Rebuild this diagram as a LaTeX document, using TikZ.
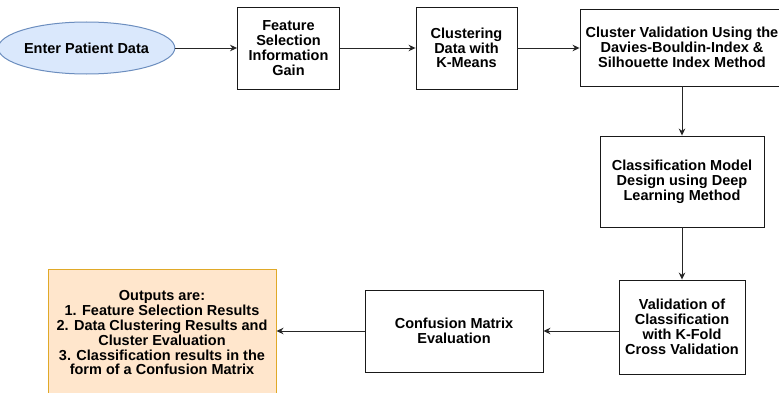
\documentclass[tikz,border=0pt]{standalone}
\usepackage{fontspec}
\setmainfont{Liberation Sans}
\usetikzlibrary{arrows.meta,shapes.geometric}
\definecolor{ellfill}{HTML}{DAE8FC}
\definecolor{elldraw}{HTML}{6C8EBF}
\definecolor{outfill}{HTML}{FFE6CC}
\definecolor{outdraw}{HTML}{E0A928}
\begin{document}
\begin{tikzpicture}[x=1pt,y=1pt,
  every node/.style={font=\bfseries\fontsize{14.5}{14.8}\selectfont, align=center, inner sep=0pt},
  procbox/.style={draw=black!90, line width=0.9pt, fill=white, rectangle},
  conn/.style={draw=black!85, line width=0.9pt, -{Stealth[length=7pt,width=6.5pt]}}]
\clip (0,0) rectangle (779,392);
\fill[white] (0,0) rectangle (779,392);
\node[ellipse, draw=elldraw, fill=ellfill, line width=1pt, minimum width=153pt, minimum height=52pt] (start) at (86.5,344) {Enter Patient Data};
\node[procbox, minimum width=102pt, minimum height=82pt] (fs) at (288.5,344) {Feature\\Selection\\Information\\Gain};
\node[procbox, minimum width=101pt, minimum height=82pt] (km) at (466.5,344) {Clustering\\Data with\\K-Means};
\node[procbox, minimum width=204pt, minimum height=77pt] (cv) at (682,344.5) {Cluster Validation Using the\\Davies-Bouldin-Index \&\\Silhouette Index Method};
\node[procbox, minimum width=164pt, minimum height=91pt] (cm) at (682,210.5) {Classification Model\\Design using Deep\\Learning Method};
\node[procbox, minimum width=126pt, minimum height=94pt] (kf) at (682,65) {Validation of\\Classification\\with K-Fold\\Cross Validation};
\node[procbox, minimum width=178pt, minimum height=82pt] (cme) at (454,61) {Confusion Matrix\\Evaluation};
\node[rectangle, draw=outdraw, fill=outfill, line width=1pt, minimum width=228pt, minimum height=128pt] (out) at (162,59) {Outputs are:\\1. Feature Selection Results\\2. Data Clustering Results and\\Cluster Evaluation\\3. Classification results in the\\form of a Confusion Matrix};
\draw[conn] (start) -- (fs);
\draw[conn] (fs) -- (km);
\draw[conn] (km) -- (cv.west |- km.east);
\draw[conn] (cv) -- (cm);
\draw[conn] (cm) -- (kf);
\draw[conn] (kf.west |- cme.east) -- (cme);
\draw[conn] (cme.west) -- (out.east |- cme.west);
\end{tikzpicture}
\end{document}
